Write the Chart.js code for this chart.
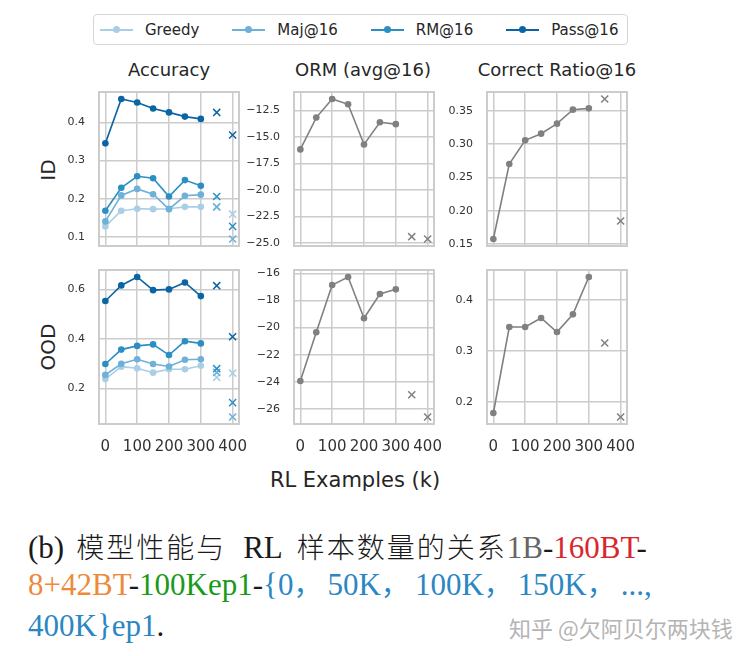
<!DOCTYPE html>
<html>
<head>
<meta charset="utf-8">
<script src="https://cdn.jsdelivr.net/npm/chart.js@4.4.1/dist/chart.umd.min.js"></script>
<style>
  html, body { margin: 0; padding: 0; background: #fff; }
  #page { position: relative; width: 756px; height: 656px; overflow: hidden;
          font-family: "DejaVu Sans", sans-serif; color: #262626; }
  canvas { position: absolute; display: block; }
  .txt { position: absolute; white-space: nowrap; text-align: center; }
  .title { font-size: 18px; line-height: 22px; width: 200px; height: 22px; }
  .ylab { font-size: 20px; line-height: 24px; width: 100px; height: 24px; transform: rotate(-90deg); }
  #legend { position: absolute; left: 93px; top: 14px; height: 29px; border: 1px solid #d6d6d6;
            border-radius: 4px; display: flex; align-items: center; padding: 0 9px 0 6px;
            font-size: 15px; gap: 33px; }
  .item { display: flex; align-items: center; }
  .sample { position: relative; width: 33px; height: 2px; margin-right: 12px; }
  .sample i { position: absolute; left: 13px; top: -2.5px; width: 7px; height: 7px; border-radius: 50%; }
  .cap { position: absolute; left: 28px; font-family: "Liberation Serif", serif; font-size: 31px;
         line-height: 36px; color: #1a1a1a; white-space: nowrap; }
  .cjk { font-family: "Noto Sans CJK SC", sans-serif; font-size: 28px; letter-spacing: 2px; font-weight: 300; }
  .cm { font-family: "Noto Sans CJK SC", sans-serif; font-size: 28px; letter-spacing: 6px; }
  #wm { position: absolute; left: 509px; top: 612px; font-family: "Noto Sans CJK SC", sans-serif;
        font-size: 22px; line-height: 30px; color: #b4b4b4; white-space: nowrap;
        text-shadow: 0 0 2px #fff; }
</style>
</head>
<body>
<div id="page">
  <div id="legend"></div>

  <div class="txt title" style="left:69px; top:59px;">Accuracy</div>
  <div class="txt title" style="left:263px; top:59px;">ORM (avg@16)</div>
  <div class="txt title" style="left:457px; top:59px;">Correct Ratio@16</div>

  <div class="txt ylab" style="left:-2.5px; top:158px;">ID</div>
  <div class="txt ylab" style="left:-2.5px; top:334.5px;">OOD</div>

  <div class="txt" style="left:205px; top:468px; width:300px; font-size:21px; line-height:24px;">RL Examples (k)</div>

  <div class="cap" style="top:528px;">(b)<span class="cjk" style="margin-left:12px">模型性能与</span><span style="margin-left:17px">RL</span><span class="cjk" style="margin-left:14px">样本数量的关系</span><span style="color:#666">1B</span>-<span style="color:#d9262e">160BT</span>-</div>
  <div class="cap" style="top:565px;"><span style="color:#ee8a3c">8+42BT</span>-<span style="color:#1a9a1a">100Kep1</span>-<span style="color:#2b87c3">{0<span class="cm">，</span>50K<span class="cm">，</span>100K<span class="cm">，</span>150K<span class="cm">，</span>...,</span></div>
  <div class="cap" style="top:608px;"><span style="color:#2b87c3">400K}ep1</span>.</div>

  <div id="wm">知乎 @欠阿贝尔两块钱</div>
</div>

<script>
// ==================== Dados ====================
const steps = [0, 50, 100, 150, 200, 250, 300];
const extraSteps = [350, 400];
const xTicks = [0, 100, 200, 300, 400];

const seriesNames = ['Greedy', 'Maj@16', 'RM@16', 'Pass@16'];
const seriesColors = ['#a9cfe6', '#6db0d8', '#2b8fc3', '#0b64a3'];
const grayColor = '#808080';

// Accuracy - ID
const idGreedy = [0.128, 0.169, 0.174, 0.173, 0.174, 0.179, 0.179];
const idMaj    = [0.141, 0.209, 0.226, 0.212, 0.173, 0.208, 0.211];
const idRM     = [0.169, 0.229, 0.259, 0.254, 0.206, 0.249, 0.234];
const idPass   = [0.345, 0.461, 0.452, 0.436, 0.426, 0.415, 0.409];
const idGreedyX = [0.178, 0.160];
const idMajX    = [0.179, 0.095];
const idRMX     = [0.206, 0.128];
const idPassX   = [0.426, 0.367];

// Accuracy - OOD
const oodGreedy = [0.238, 0.288, 0.282, 0.264, 0.278, 0.278, 0.292];
const oodMaj    = [0.255, 0.300, 0.318, 0.299, 0.289, 0.316, 0.318];
const oodRM     = [0.299, 0.357, 0.372, 0.378, 0.335, 0.391, 0.382];
const oodPass   = [0.553, 0.616, 0.650, 0.597, 0.600, 0.628, 0.573];
const oodGreedyX = [0.245, 0.262];
const oodMajX    = [0.265, 0.085];
const oodRMX     = [0.280, 0.143];
const oodPassX   = [0.615, 0.409];

// ORM (avg@16)
const idOrm  = [-16.19, -13.19, -11.44, -11.94, -15.72, -13.63, -13.81];
const idOrmX = [-24.41, -24.63];
const oodOrm  = [-23.94, -20.34, -16.86, -16.27, -19.31, -17.52, -17.18];
const oodOrmX = [-24.95, -26.59];

// Correct Ratio@16
const idCr  = [0.1575, 0.270, 0.3055, 0.3155, 0.3305, 0.3515, 0.3535];
const idCrX = [0.3675, 0.1845];
const oodCr  = [0.1785, 0.3466, 0.3466, 0.3642, 0.3368, 0.3713, 0.4443];
const oodCrX = [0.3153, 0.1707];

// Ticks do eixo y
const idAccTicks  = [0.1, 0.2, 0.3, 0.4];
const idOrmTicks  = [-25, -22.5, -20, -17.5, -15, -12.5];
const idCrTicks   = [0.15, 0.2, 0.25, 0.3, 0.35];
const oodAccTicks = [0.2, 0.4, 0.6];
const oodOrmTicks = [-26, -24, -22, -20, -18, -16];
const oodCrTicks  = [0.2, 0.3, 0.4];

// ==================== Layout ====================
const colLeft = [99.3, 293.6, 487.3];
const rowTop = [92, 270];
const plotW = 140, plotH = 154;
const padL = 52, padT = 8, padR = 18, padB = 8;
const xAxisH = [0, 32];
const tickGap = 14;

Chart.defaults.font.family = "'DejaVu Sans', sans-serif";
Chart.defaults.color = '#333333';

// moldura cinza em volta de cada painel
const framePlugin = {
  id: 'frame',
  afterDatasetsDraw(chart) {
    const { ctx, chartArea: a } = chart;
    ctx.save();
    ctx.strokeStyle = '#cccccc';
    ctx.lineWidth = 2;
    ctx.strokeRect(a.left, a.top, a.right - a.left, a.bottom - a.top);
    ctx.restore();
  }
};

function fmt(v, dec) {
  return v.toFixed(dec).replace('-', '\u2212');
}

// limites com 5% de margem, como o matplotlib
function limits(arrs) {
  const all = arrs.flat();
  const lo = Math.min(...all), hi = Math.max(...all);
  const m = (hi - lo) * 0.05;
  return [lo - m, hi + m];
}

function pts(xs, ys) {
  return xs.map((x, i) => ({ x: x, y: ys[i] }));
}

function makePanel(col, row, lines, crosses, colors, yTicks, dec) {
  const canvas = document.createElement('canvas');
  const w = padL + plotW + padR;
  const h = padT + plotH + xAxisH[row] + padB;
  canvas.width = w;
  canvas.height = h;
  canvas.style.left = (colLeft[col] - padL) + 'px';
  canvas.style.top = (rowTop[row] - padT) + 'px';
  document.getElementById('page').appendChild(canvas);

  const [yMin, yMax] = limits(lines.concat(crosses));
  const n = lines.length;
  const datasets = [];
  lines.forEach((ys, i) => {
    datasets.push({
      data: pts(steps, ys),
      borderColor: colors[i],
      backgroundColor: colors[i],
      borderWidth: 1.6,
      pointRadius: 3.3,
      pointBorderWidth: 0,
      pointBackgroundColor: colors[i],
      order: 20 + n - i,
      clip: false
    });
  });
  crosses.forEach((ys, i) => {
    datasets.push({
      data: pts(extraSteps, ys),
      showLine: false,
      borderColor: colors[i],
      backgroundColor: colors[i],
      pointStyle: 'crossRot',
      pointRadius: 5,
      pointBorderWidth: 1.5,
      order: n - i,
      clip: false
    });
  });

  const grid = { color: '#cccccc', lineWidth: 1.5, drawTicks: true, tickLength: tickGap, tickColor: 'rgba(0,0,0,0)' };

  new Chart(canvas.getContext('2d'), {
    type: 'line',
    data: { datasets: datasets },
    options: {
      responsive: false,
      animation: false,
      layout: { padding: { left: 0, top: padT, right: padR, bottom: padB } },
      plugins: { legend: { display: false }, tooltip: { enabled: false } },
      scales: {
        x: {
          type: 'linear',
          min: -20,
          max: 420,
          afterBuildTicks: (s) => { s.ticks = xTicks.map(v => ({ value: v })); },
          afterFit: (s) => { s.height = xAxisH[row]; },
          grid: grid,
          border: { display: false },
          ticks: {
            display: row === 1,
            padding: 0,
            maxRotation: 0,
            autoSkip: false,
            font: { size: 15 },
            callback: (v) => String(v)
          }
        },
        y: {
          type: 'linear',
          min: yMin,
          max: yMax,
          afterBuildTicks: (s) => { s.ticks = yTicks.map(v => ({ value: v })); },
          afterFit: (s) => { s.width = padL; },
          grid: grid,
          border: { display: false },
          ticks: {
            padding: 0,
            autoSkip: false,
            font: { size: 11 },
            callback: (v) => fmt(v, dec)
          }
        }
      }
    },
    plugins: [framePlugin]
  });
}

// ==================== Legenda ====================
const legendEl = document.getElementById('legend');
seriesNames.forEach((name, i) => {
  const item = document.createElement('div');
  item.className = 'item';
  item.innerHTML = `<span class="sample" style="background:${seriesColors[i]}"><i style="background:${seriesColors[i]}"></i></span><span>${name}</span>`;
  legendEl.appendChild(item);
});

// ==================== Painéis ====================
makePanel(0, 0, [idGreedy, idMaj, idRM, idPass], [idGreedyX, idMajX, idRMX, idPassX], seriesColors, idAccTicks, 1);
makePanel(1, 0, [idOrm], [idOrmX], [grayColor], idOrmTicks, 1);
makePanel(2, 0, [idCr], [idCrX], [grayColor], idCrTicks, 2);
makePanel(0, 1, [oodGreedy, oodMaj, oodRM, oodPass], [oodGreedyX, oodMajX, oodRMX, oodPassX], seriesColors, oodAccTicks, 1);
makePanel(1, 1, [oodOrm], [oodOrmX], [grayColor], oodOrmTicks, 0);
makePanel(2, 1, [oodCr], [oodCrX], [grayColor], oodCrTicks, 1);
</script>
</body>
</html>
